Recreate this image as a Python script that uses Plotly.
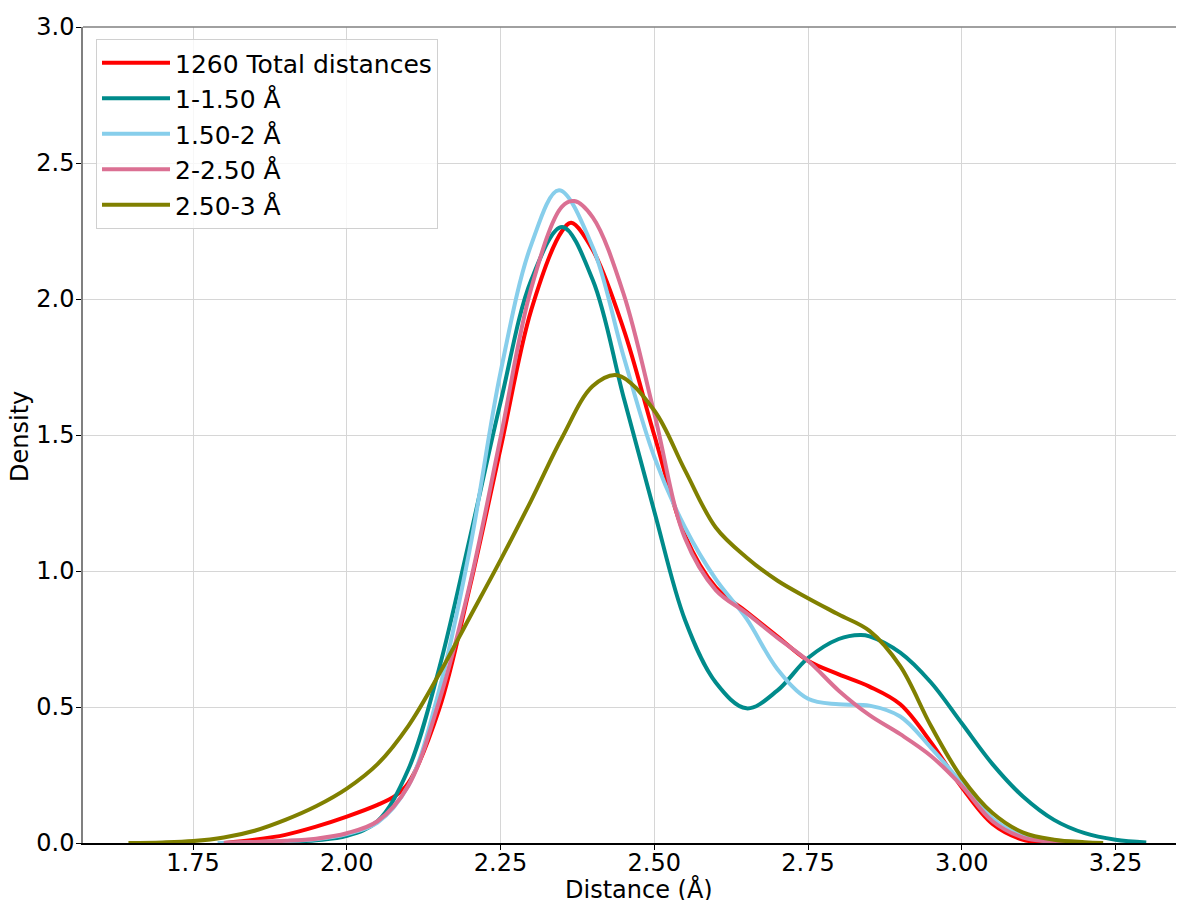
import plotly.graph_objects as go

# ---- data (KDE curves) ----
x_total = [1.80, 1.85, 1.90, 1.95, 2.00, 2.05, 2.08, 2.10, 2.15, 2.20, 2.25, 2.30, 2.35, 2.365, 2.40, 2.45, 2.50,
           2.55, 2.60, 2.65, 2.70, 2.75, 2.80, 2.85, 2.90, 2.95, 3.00, 3.05, 3.10, 3.15]
y_total = [0.0, 0.012, 0.03, 0.06, 0.097, 0.14, 0.175, 0.22, 0.49, 0.94, 1.45, 1.96, 2.25, 2.28, 2.18, 1.89, 1.50,
           1.13, 0.94, 0.85, 0.76, 0.67, 0.62, 0.575, 0.51, 0.37, 0.205, 0.07, 0.012, 0.0]

x_b1 = [1.85, 1.90, 1.95, 2.00, 2.05, 2.10, 2.15, 2.20, 2.25, 2.30, 2.35, 2.40, 2.45, 2.50, 2.55, 2.60,
        2.65, 2.70, 2.75, 2.80, 2.835, 2.85, 2.90, 2.95, 3.00, 3.05, 3.10, 3.15, 3.20, 3.25, 3.30]
y_b1 = [0.0, 0.004, 0.01, 0.026, 0.08, 0.27, 0.64, 1.12, 1.62, 2.07, 2.265, 2.07, 1.64, 1.22, 0.82, 0.59,
        0.495, 0.56, 0.68, 0.75, 0.765, 0.76, 0.70, 0.59, 0.44, 0.29, 0.17, 0.085, 0.036, 0.012, 0.002]

x_b2 = [1.79, 1.85, 1.90, 1.95, 2.00, 2.05, 2.10, 2.15, 2.20, 2.25, 2.30, 2.345, 2.40, 2.45, 2.50, 2.55, 2.60,
        2.65, 2.70, 2.75, 2.80, 2.85, 2.90, 2.95, 3.00, 3.05, 3.10, 3.15, 3.20]
y_b2 = [0.0, 0.003, 0.007, 0.014, 0.033, 0.075, 0.21, 0.56, 1.08, 1.73, 2.20, 2.40, 2.19, 1.79, 1.42, 1.16, 0.97,
        0.825, 0.64, 0.53, 0.51, 0.505, 0.465, 0.35, 0.22, 0.09, 0.025, 0.005, 0.0]

x_b3 = [1.80, 1.85, 1.90, 1.95, 2.00, 2.05, 2.10, 2.15, 2.20, 2.25, 2.30, 2.35, 2.37, 2.40, 2.45, 2.50, 2.55, 2.60,
        2.65, 2.70, 2.75, 2.80, 2.85, 2.90, 2.95, 3.00, 3.05, 3.10, 3.15, 3.18]
y_b3 = [0.0, 0.004, 0.008, 0.016, 0.036, 0.08, 0.21, 0.52, 0.95, 1.49, 2.04, 2.34, 2.36, 2.30, 2.02, 1.58, 1.12, 0.93,
        0.845, 0.755, 0.67, 0.56, 0.47, 0.40, 0.32, 0.21, 0.08, 0.02, 0.004, 0.0]

x_b4 = [1.645, 1.70, 1.75, 1.80, 1.85, 1.90, 1.95, 2.00, 2.05, 2.10, 2.15, 2.20, 2.25, 2.30, 2.35, 2.40, 2.44, 2.50,
        2.55, 2.60, 2.65, 2.70, 2.75, 2.80, 2.85, 2.90, 2.95, 3.00, 3.05, 3.10, 3.15, 3.20, 3.23]
y_b4 = [0.0, 0.002, 0.007, 0.02, 0.045, 0.085, 0.135, 0.20, 0.29, 0.43, 0.62, 0.83, 1.04, 1.26, 1.49, 1.68, 1.72, 1.59,
        1.37, 1.16, 1.05, 0.965, 0.90, 0.84, 0.78, 0.65, 0.43, 0.24, 0.11, 0.038, 0.012, 0.003, 0.0]

names = ["1260 Total distances", "1-1.50 Å", "1.50-2 Å", "2-2.50 Å", "2.50-3 Å"]
colors = ["#ff0000", "#008b8b", "#87ceeb", "#db7093", "#808000"]
xs = [x_total, x_b1, x_b2, x_b3, x_b4]
ys = [y_total, y_b1, y_b2, y_b3, y_b4]

x_ticks = [1.75, 2.00, 2.25, 2.50, 2.75, 3.00, 3.25]
y_ticks = [0.0, 0.5, 1.0, 1.5, 2.0, 2.5, 3.0]

fig = go.Figure()
for n, c, x, y in zip(names, colors, xs, ys):
    fig.add_trace(go.Scatter(x=x, y=y, mode="lines", name=n,
                             line=dict(color=c, width=4, shape="spline", smoothing=1.0)))

font = "DejaVu Sans, Arial, sans-serif"
fs = 24
L, T, B = 75, 19, 65
PW = 1184 - L
PH = 900 - T - B
fig.update_layout(
    width=1184, height=900,
    margin=dict(l=L, r=0, t=T, b=B, autoexpand=False),
    paper_bgcolor="white", plot_bgcolor="white",
    font=dict(family=font, size=fs, color="black"),
    showlegend=True,
    legend=dict(x=13 / PW, y=1 - 12 / PH, xanchor="left", yanchor="top",
                bgcolor="rgba(255,255,255,0.8)", bordercolor="#d0d0d0", borderwidth=1,
                font=dict(size=25), itemwidth=68, tracegroupgap=0),
    xaxis=dict(range=[1.5711, 3.3744], tickvals=x_ticks, ticktext=[f"{v:.2f}" for v in x_ticks],
               showgrid=True, gridcolor="#d6d6d6", gridwidth=1, zeroline=False,
               showline=True, linecolor="black", linewidth=1.5, automargin=False,
               ticks="outside", ticklen=5, tickwidth=1.2, tickcolor="black",
               ticklabelstandoff=-8),
    yaxis=dict(range=[0, 3.0], tickvals=y_ticks, ticktext=[f"{v:.1f}" for v in y_ticks],
               showgrid=True, gridcolor="#d6d6d6", gridwidth=1, zeroline=False,
               showline=True, linecolor="#808080", linewidth=1.5, automargin=False,
               ticks="outside", ticklen=5, tickwidth=1.2, tickcolor="black",
               ticklabelstandoff=-3),
)
fig.add_shape(type="line", xref="paper", yref="paper", x0=0, x1=1, y0=1, y1=1,
              line=dict(color="#808080", width=1.5))
fig.add_annotation(text="Distance (Å)", xref="paper", yref="paper", x=(639 - 8 - L) / PW, y=0,
                   yshift=-46, xanchor="center", yanchor="middle", showarrow=False,
                   font=dict(size=fs))
fig.add_annotation(text="Density", xref="paper", yref="paper", x=0, y=(835 - 437 + 8) / PH,
                   xshift=-63, xanchor="center", yanchor="middle", textangle=-90, showarrow=False,
                   font=dict(size=fs))

fig.write_html("out.html")
